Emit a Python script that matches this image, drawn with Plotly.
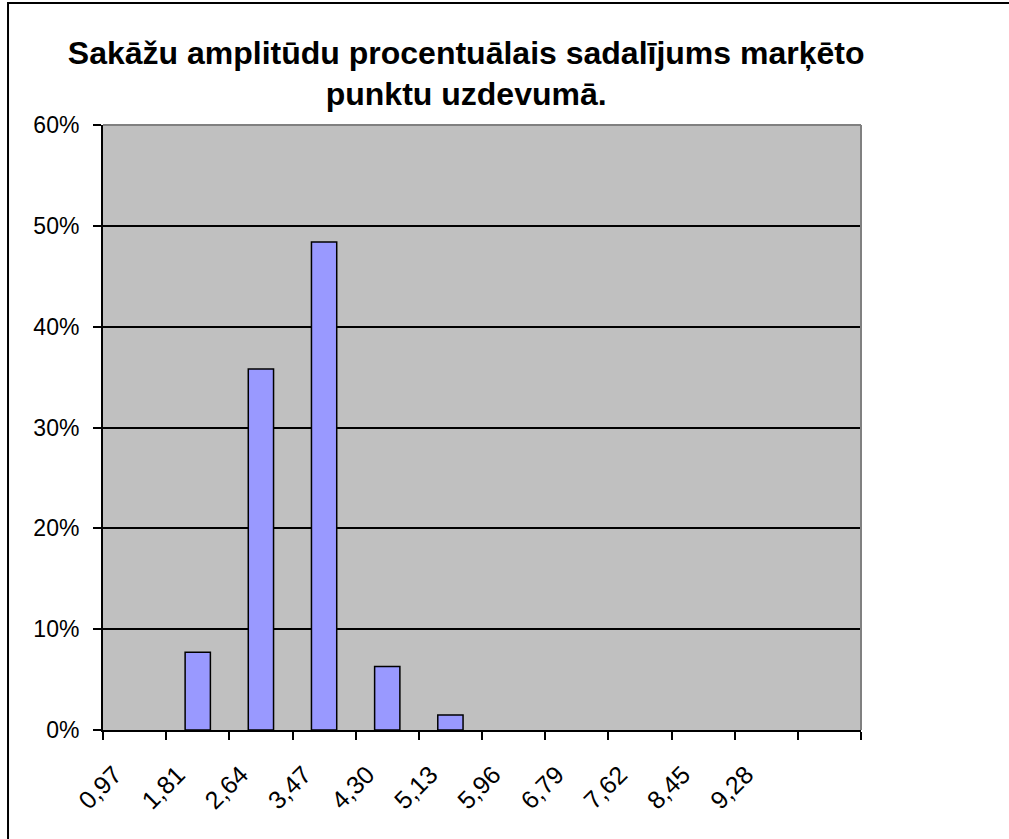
# Histogramma: sakāžu amplitūdu procentuālais sadalījums
import plotly.graph_objects as go

# Dati
intervali = ['0,97', '1,81', '2,64', '3,47', '4,30', '5,13', '5,96',
             '6,79', '7,62', '8,45', '9,28', ' ']
procenti = [None, 0.077, 0.358, 0.484, 0.063, 0.015,
            None, None, None, None, None, None]
y_ticks = [0, 0.1, 0.2, 0.3, 0.4, 0.5, 0.6]

# Krāsas
stabini = '#9999FF'
fons = '#C0C0C0'

fig = go.Figure()

fig.add_trace(go.Bar(
    x=intervali,
    y=procenti,
    marker=dict(color=stabini, line=dict(color='black', width=1.5)),
    showlegend=False
))

fig.update_layout(
    width=1009, height=839,
    title=dict(
        text='Sakāžu amplitūdu procentuālais sadalījums marķēto<br>punktu uzdevumā.',
        x=0.462, xanchor='center', y=0.924, yanchor='top',
        font=dict(family='Liberation Sans, Arial', size=32, color='black', weight='bold')
    ),
    font=dict(family='Liberation Sans, Arial', size=23, color='black'),
    plot_bgcolor=fons,
    paper_bgcolor='white',
    margin=dict(l=103, r=148, t=125, b=109),
    bargap=0.6,
    xaxis=dict(
        type='category',
        tickson='boundaries',
        ticks='outside', ticklen=8, tickwidth=1.5, tickcolor='black',
        tickangle=-45,
        tickfont=dict(size=25),
        ticklabelshift=-20,
        ticklabelstandoff=18,
        showgrid=False,
        showline=True, linecolor='black', linewidth=2,
        zeroline=False
    ),
    yaxis=dict(
        range=[0, 0.6],
        tickvals=y_ticks,
        tickformat='.0%',
        ticks='outside', ticklen=8, tickwidth=1.5, tickcolor='black',
        ticklabelstandoff=9,
        showgrid=True, gridcolor='black', gridwidth=1.5,
        showline=True, linecolor='black', linewidth=2,
        zeroline=False
    )
)

# Pelēkā augšējā un labā mala
fig.add_shape(type='line', xref='paper', yref='paper', x0=0, x1=1, y0=1, y1=1,
              line=dict(color='#808080', width=2), layer='above')
fig.add_shape(type='line', xref='paper', yref='paper', x0=1, x1=1, y0=0, y1=1,
              line=dict(color='#808080', width=2), layer='above')

# Diagrammas ārējais rāmis
fig.add_shape(type='rect', xref='paper', yref='paper',
              x0=-0.1253, x1=1.25, y0=-0.25, y1=1.2017,
              line=dict(color='black', width=2), fillcolor='rgba(0,0,0,0)')

fig.write_html("out.html", config=dict(displayModeBar=False),
               post_script="document.body.style.margin='0';")
